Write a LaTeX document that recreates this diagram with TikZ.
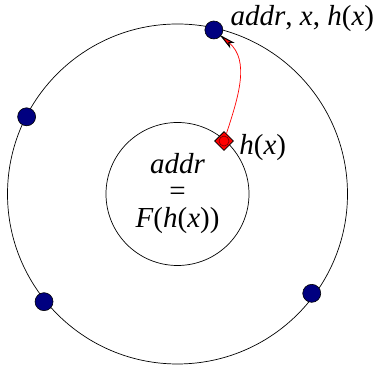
\documentclass[tikz,border=0pt]{standalone}
\usepackage{fontspec}
\setmainfont{Liberation Serif}
\usetikzlibrary{positioning, shapes.geometric, arrows.meta}
\definecolor{dotblue}{RGB}{0,0,128}
\definecolor{keyred}{RGB}{255,0,0}

\begin{document}
\begin{tikzpicture}[x=1pt, y=1pt, font=\fontsize{29}{27}\selectfont, >=Stealth]
    \useasboundingbox (0,0) rectangle (376,371);
    \tikzset{
      dot/.style={circle, draw=black, fill=dotblue, line width=0.6pt, minimum size=18pt, inner sep=0pt},
      keybox/.style={diamond, draw=black, fill=keyred, line width=0.8pt, minimum size=19pt, inner sep=0pt}
    }
    \coordinate (c) at (177.5,177);
    \node[draw, circle, line width=0.7pt, minimum size=340pt, inner sep=0pt] (ring) at (c) {};
    \node[draw, circle, line width=0.7pt, minimum size=143pt, inner sep=0pt, align=center] (core) at (c)
      {\textit{addr}\\=\\\textit{F}(\textit{h}(\textit{x}))};
    \foreach \n/\a/\r in {d1/77.5/168, d2/152.9/169.5, d3/218.9/171.5, d4/323.5/167} {
      \node[dot] (\n) at ([shift={(\a:\r)}]c) {};
    }
    \node[keybox] (key) at ([shift={(48.7:70.5)}]c) {};
    \draw[draw={rgb,255:red,110;green,0;blue,0}, fill=keyred, line width=0.6pt] (key.center) circle (5pt);
    \node[right=2pt of key, yshift=-6pt] (hlabel) {\textit{h}(\textit{x})};
    \node[right=4pt of d1, yshift=11pt] (dlabel) {\textit{addr}, \textit{x}, \textit{h}(\textit{x})};
    \draw[red, line width=0.7pt, shorten >=-2pt, -{Stealth[length=17pt, width=7pt, inset=4pt, black, fill=red, line width=1pt]}]
      (key) to[out=72, in=-40] (d1);
  \end{tikzpicture}
\end{document}
